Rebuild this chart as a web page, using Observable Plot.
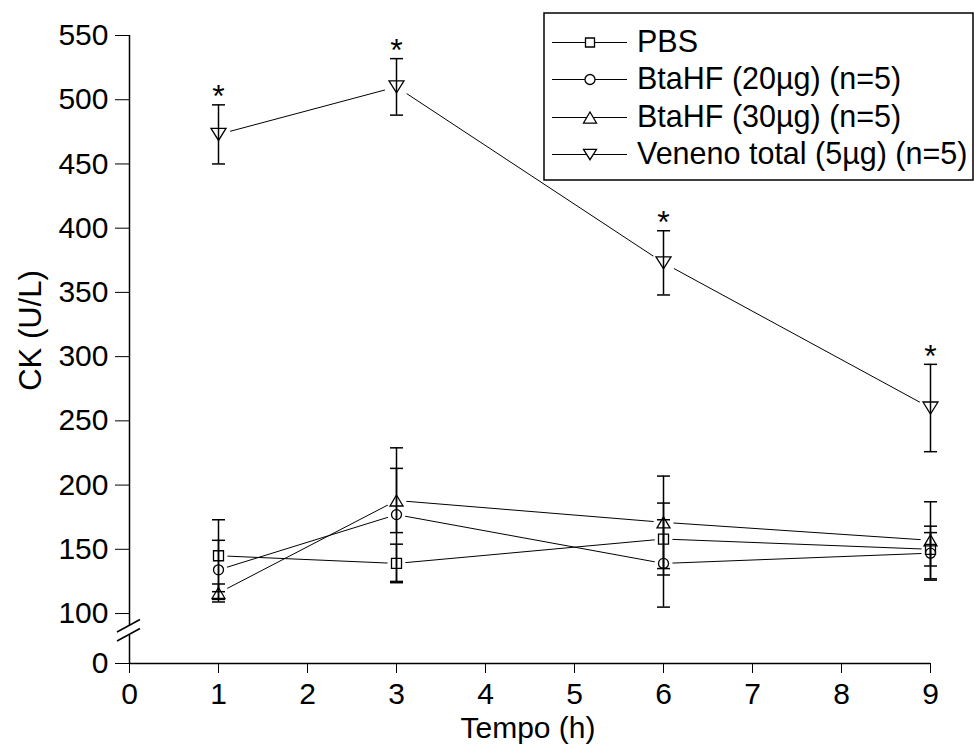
<!DOCTYPE html>
<html>
<head>
<meta charset="utf-8">
<script src="https://cdn.jsdelivr.net/npm/d3@7"></script>
<script src="https://cdn.jsdelivr.net/npm/@observablehq/plot@0.6"></script>
<style>
  body { margin: 0; background: #fff; }
  #chart { position: relative; width: 974px; height: 744px; }
  #legend { position: absolute; left: 0; top: 0; }
</style>
</head>
<body>
<div id="chart"></div>
<script>
// Sampling times (h)
const times = [1, 3, 6, 9];

// Group names
const seriesNames = ["PBS", "BtaHF (20µg) (n=5)", "BtaHF (30µg) (n=5)", "Veneno total (5µg) (n=5)"];

// CK (U/L): mean and SD per group
const pbsMean = [145, 139, 158, 150];
const pbsSd = [28, 15, 28, 13];
const btahf20Mean = [134, 177, 139, 147];
const btahf20Sd = [23, 52, 34, 21];
const btahf30Mean = [116, 188, 171, 157];
const btahf30Sd = [7, 25, 36, 30];
const venenoMean = [473, 510, 373, 260];
const venenoSd = [23, 22, 25, 34];

// Significance flags (Veneno total vs PBS)
const venenoSignificant = [true, true, true, true];

// Axis ticks, titles and the break in the y axis
const xTicks = [0, 1, 2, 3, 4, 5, 6, 7, 8, 9];
const yTicks = [0, 100, 150, 200, 250, 300, 350, 400, 450, 500, 550];
const xTitle = "Tempo (h)";
const yTitle = "CK (U/L)";
const yMax = 550;
const yBreakStart = 100;   // values below this are drawn compressed
const yBreakFactor = 0.389;
const yBreak = [57, 75];   // gap in the y axis line

// Broken y axis: compress 0–100, keep the rest linear
const brk = v => v < yBreakStart ? v * yBreakFactor : yBreakStart * yBreakFactor + (v - yBreakStart);

// Marker shapes (r gives the half width)
const symSquare = {draw(ctx, size) { const r = Math.sqrt(size / Math.PI); ctx.rect(-r, -r, 2 * r, 2 * r); }};
const symCircle = {draw(ctx, size) { const r = Math.sqrt(size / Math.PI); ctx.moveTo(r, 0); ctx.arc(0, 0, r, 0, 2 * Math.PI); }};
const symTriUp = {draw(ctx, size) { const a = Math.sqrt(size / Math.PI), h = 1.7 * a; ctx.moveTo(0, -h / 2); ctx.lineTo(a, h / 2); ctx.lineTo(-a, h / 2); ctx.closePath(); }};
const symTriDown = {draw(ctx, size) { const a = Math.sqrt(size / Math.PI), h = 1.6 * a; ctx.moveTo(-a, -h / 2); ctx.lineTo(a, -h / 2); ctx.lineTo(0, h / 2); ctx.closePath(); }};
const symCap = {draw(ctx, size) { const r = Math.sqrt(size / Math.PI); ctx.moveTo(-r, 0); ctx.lineTo(r, 0); }};

const series = [
  {name: seriesNames[0], mean: pbsMean, sd: pbsSd, symbol: symSquare, r: 5, mask: 9, legendR: 4.5},
  {name: seriesNames[1], mean: btahf20Mean, sd: btahf20Sd, symbol: symCircle, r: 5, mask: 9, legendR: 5},
  {name: seriesNames[2], mean: btahf30Mean, sd: btahf30Sd, symbol: symTriUp, r: 6.5, mask: 10, legendR: 6.5},
  {name: seriesNames[3], mean: venenoMean, sd: venenoSd, symbol: symTriDown, r: 7.5, mask: 12, legendR: 6.5}
];
series.forEach(s => {
  s.rows = times.map((t, i) => ({series: s.name, t, mean: s.mean[i], sd: s.sd[i]}));
});
const allRows = series.flatMap(s => s.rows);
const starRows = series[3].rows.filter((d, i) => venenoSignificant[i]);
const yAxisSegments = [[0, yBreak[0]], [yBreak[1], yMax]];

// Slashes marking the interrupted y axis
function axisBreakMark(index, {x, y}) {
  const g = d3.create("svg:g").attr("stroke", "black").attr("stroke-width", 1.5).attr("fill", "none");
  const x0 = x(0);
  for (const v of yBreak) {
    const py = y(brk(v));
    g.append("path").attr("d", `M${x0 - 12},${py + 6.5}L${x0 + 11},${py - 6}`);
  }
  return g.node();
}

const font = "'Liberation Sans', Arial, sans-serif";

const chart = Plot.plot({
  width: 974,
  height: 744,
  marginLeft: 129,
  marginRight: 44,
  marginTop: 35,
  marginBottom: 81,
  style: {fontFamily: font, fontSize: "30px", background: "white", color: "black"},
  x: {domain: [0, 9], ticks: xTicks, tickSize: 10, tickPadding: 9, tickFormat: d => String(d), label: null},
  y: {
    domain: [brk(0), brk(yMax)],
    ticks: yTicks.map(brk),
    tickFormat: t => String(yTicks.find(v => Math.abs(brk(v) - t) < 1e-6)),
    tickSize: 14, tickPadding: 7, label: null
  },
  marks: [
    Plot.ruleY([0], {y: brk, stroke: "black", strokeWidth: 1.5}),
    Plot.ruleX(yAxisSegments, {x: 0, y1: d => brk(d[0]), y2: d => brk(d[1]), stroke: "black", strokeWidth: 1.5}),
    axisBreakMark,
    ...series.map(s => Plot.line(s.rows, {x: "t", y: d => brk(d.mean), stroke: "black", strokeWidth: 1})),
    ...series.map(s => Plot.dot(s.rows, {x: "t", y: d => brk(d.mean), r: s.mask, fill: "white", stroke: "none"})),
    Plot.ruleX(allRows, {x: "t", y1: d => brk(d.mean - d.sd), y2: d => brk(d.mean + d.sd), stroke: "black", strokeWidth: 1.5}),
    Plot.dot(allRows, {x: "t", y: d => brk(d.mean + d.sd), symbol: symCap, r: 6.5, fill: "none", stroke: "black", strokeWidth: 1.5}),
    Plot.dot(allRows, {x: "t", y: d => brk(d.mean - d.sd), symbol: symCap, r: 6.5, fill: "none", stroke: "black", strokeWidth: 1.5}),
    ...series.map(s => Plot.dot(s.rows, {x: "t", y: d => brk(d.mean), symbol: s.symbol, r: s.r, fill: "none", stroke: "black", strokeWidth: 1.3})),
    Plot.text(starRows, {x: "t", y: d => brk(d.mean + d.sd), text: () => "*", dy: -8, fontSize: 32, fill: "black"}),
    Plot.text([xTitle], {frameAnchor: "bottom", text: d => d, textAnchor: "middle", lineAnchor: "middle", dy: 65, dx: -2, fontSize: 30, fill: "black"}),
    Plot.text([yTitle], {frameAnchor: "left", text: d => d, textAnchor: "middle", lineAnchor: "middle", rotate: -90, dx: -98, dy: -19, fontSize: 31, fill: "black"})
  ]
});

const container = document.getElementById("chart");
container.appendChild(chart);

// Legend box in the upper right corner
const legendLeft = 544, legendTop = 13, legendRight = 973, legendBottom = 180;
const legendRows = [42.5, 79.5, 117.5, 154.5];
const legend = d3.create("svg")
  .attr("id", "legend")
  .attr("width", 974)
  .attr("height", 200)
  .style("font-family", font);
legend.append("rect")
  .attr("x", legendLeft).attr("y", legendTop)
  .attr("width", legendRight - legendLeft).attr("height", legendBottom - legendTop)
  .attr("fill", "white").attr("stroke", "black").attr("stroke-width", 1.5);
series.forEach((s, i) => {
  const yy = legendRows[i];
  const g = legend.append("g");
  g.append("line").attr("x1", 552).attr("x2", 627).attr("y1", yy).attr("y2", yy)
    .attr("stroke", "black").attr("stroke-width", 1);
  const p = d3.path();
  s.symbol.draw(p, Math.PI * s.legendR * s.legendR);
  g.append("path").attr("d", p.toString()).attr("transform", `translate(590,${yy})`)
    .attr("fill", "white").attr("stroke", "black").attr("stroke-width", 1.3);
  g.append("text").attr("x", 637).attr("y", yy + 9).attr("font-size", 30.5).attr("fill", "black").text(s.name);
});
container.appendChild(legend.node());
</script>
</body>
</html>
